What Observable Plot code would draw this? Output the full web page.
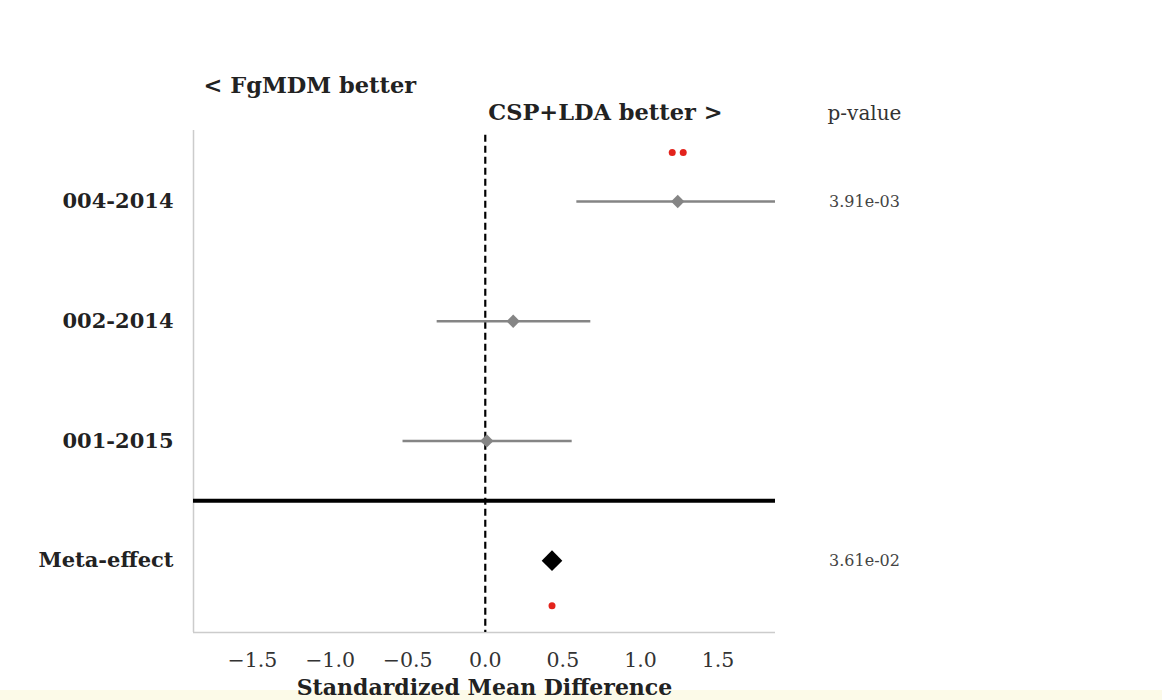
<!DOCTYPE html>
<html>
<head>
<meta charset="utf-8">
<script src="https://cdn.jsdelivr.net/npm/d3@7"></script>
<script src="https://cdn.jsdelivr.net/npm/@observablehq/plot@0.6"></script>
<style>
  html, body { margin: 0; padding: 0; }
  body { background: linear-gradient(to bottom, #ffffff 690px, #fcfae8 690px); width: 1162px; height: 700px; overflow: hidden; }
</style>
</head>
<body>
<div id="chart"></div>
<script>
// ---- data ----
const rows = ["004-2014", "002-2014", "001-2015", "Meta-effect"];
const estimates = [1.24, 0.18, 0.01, 0.43];
const ciLow = [0.59, -0.31, -0.53, null];
const ciHigh = [1.87, 0.68, 0.56, null];
const stars = [2, 0, 0, 1];
const pValues = ["3.91e-03", null, null, "3.61e-02"];
const xTicks = [-1.5, -1.0, -0.5, 0.0, 0.5, 1.0, 1.5];
const xDomain = [-1.88, 1.87];
const yDomain = [-0.593, 3.6];

const data = rows.map((name, i) => ({
  name, idx: i, est: estimates[i], lo: ciLow[i], hi: ciHigh[i],
  stars: stars[i], p: pValues[i], meta: name === "Meta-effect"
}));
const studies = data.filter(d => !d.meta);
const meta = data.filter(d => d.meta);
const sepY = (studies[studies.length - 1].idx + meta[0].idx) / 2;

const serif = "DejaVu Serif";
const starMarks = data.flatMap(d => d3.range(d.stars).map(k =>
  Plot.dot([d], {
    x: "est", y: "idx",
    dx: (k - (d.stars - 1) / 2) * 11,
    dy: d.meta ? 45 : -49,
    r: 3.5, fill: "#e3231c", stroke: "none"
  })
));

const chart = Plot.plot({
  width: 1162,
  height: 700,
  marginLeft: 193,
  marginRight: 387,
  marginTop: 130,
  marginBottom: 68,
  style: { background: "transparent", fontFamily: serif },
  x: { domain: xDomain },
  y: { domain: yDomain, range: [130, 632] },
  marks: [
    Plot.ruleX([xDomain[0]], { stroke: "#cccccc", strokeWidth: 1.5 }),
    Plot.ruleY([yDomain[1]], { stroke: "#cccccc", strokeWidth: 1.5 }),
    Plot.ruleX([0], { stroke: "black", strokeWidth: 2.2, strokeDasharray: "7,4", y1: yDomain[0] + 0.04, y2: yDomain[1] }),
    Plot.ruleY([sepY], { stroke: "black", strokeWidth: 4 }),
    Plot.ruleY(studies, { y: "idx", x1: "lo", x2: "hi", stroke: "#858585", strokeWidth: 2.5 }),
    Plot.dot(studies, { x: "est", y: "idx", symbol: "diamond2", r: 6, fill: "#858585", stroke: "none" }),
    Plot.dot(meta, { x: "est", y: "idx", symbol: "diamond2", r: 9.3, fill: "black", stroke: "none" }),
    ...starMarks,
    Plot.text(data.filter(d => d.p), { y: "idx", text: "p", frameAnchor: "right", dx: 89, textAnchor: "middle", fontSize: 16, fill: "#444", fontFamily: serif }),
    Plot.text(["p-value"], { frameAnchor: "top-right", dx: 89, dy: -25, textAnchor: "middle", fontSize: 20, fill: "#333", fontFamily: serif }),
    Plot.text(["< FgMDM better"], { frameAnchor: "top-left", dx: 10, dy: -53, textAnchor: "start", fontWeight: "bold", fontSize: 22.5, fill: "#222", fontFamily: serif }),
    Plot.text(["CSP+LDA better >"], { x: 0, frameAnchor: "top", dx: 3, dy: -26, textAnchor: "start", fontWeight: "bold", fontSize: 22.5, fill: "#222", fontFamily: serif }),
    Plot.axisY({ ticks: data.map(d => d.idx), tickFormat: i => rows[i], tickSize: 0, tickPadding: 20, fontSize: 21, fontWeight: "bold", fill: "#222", fontFamily: serif, label: null }),
    Plot.axisX({ ticks: xTicks, tickFormat: d3.format(".1f"), tickSize: 0, tickPadding: 20, fontSize: 20.5, fill: "#333", fontFamily: serif, label: null }),
    Plot.text(["Standardized Mean Difference"], { frameAnchor: "bottom", dy: 62, fontWeight: "bold", fontSize: 22, fill: "#222", fontFamily: serif })
  ]
});
document.getElementById("chart").appendChild(chart);
</script>
</body>
</html>
